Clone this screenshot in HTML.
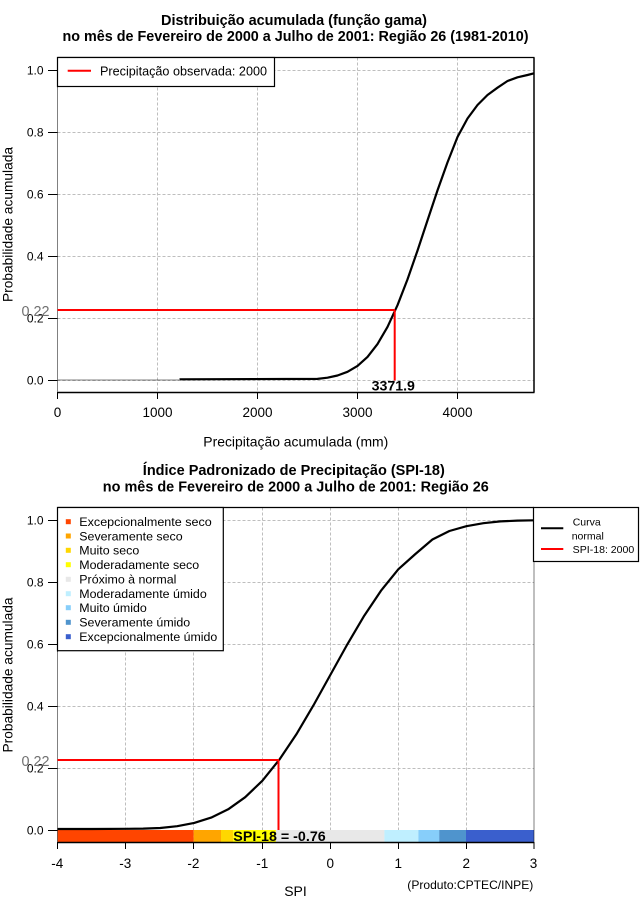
<!DOCTYPE html>
<html><head><meta charset="utf-8"><style>
html,body{margin:0;padding:0;background:#fff;}
svg{display:block;}
text{font-family:"Liberation Sans",Arial,sans-serif;}
</style></head><body>
<svg width="640" height="900" viewBox="0 0 640 900" xmlns="http://www.w3.org/2000/svg">
<rect width="640" height="900" fill="#fff"/>

<!-- ===== TOP PLOT ===== -->
<text x="294" y="25" font-size="15" font-weight="bold" text-anchor="middle" textLength="266" lengthAdjust="spacingAndGlyphs">Distribuição acumulada (função gama)</text>
<text x="295.5" y="41" font-size="15" font-weight="bold" text-anchor="middle" textLength="466" lengthAdjust="spacingAndGlyphs">no mês de Fevereiro de 2000 a Julho de 2001: Região 26 (1981-2010)</text>

<g stroke="#bebebe" stroke-width="1" stroke-dasharray="3,2" fill="none">
  <line x1="57.5" y1="70.5" x2="534" y2="70.5"/>
  <line x1="57.5" y1="132.5" x2="534" y2="132.5"/>
  <line x1="57.5" y1="194.5" x2="534" y2="194.5"/>
  <line x1="57.5" y1="256.5" x2="534" y2="256.5"/>
  <line x1="57.5" y1="318.5" x2="534" y2="318.5"/>
  <line x1="57.5" y1="380.5" x2="534" y2="380.5"/>
  <line x1="157.5" y1="57.5" x2="157.5" y2="392.5"/>
  <line x1="257.5" y1="57.5" x2="257.5" y2="392.5"/>
  <line x1="357.5" y1="57.5" x2="357.5" y2="392.5"/>
  <line x1="457.5" y1="57.5" x2="457.5" y2="392.5"/>
</g>

<!-- box -->
<line x1="57.5" y1="57.5" x2="534.5" y2="57.5" stroke="#000" stroke-width="1.2"/>
<line x1="534" y1="57.5" x2="534" y2="392.5" stroke="#000" stroke-width="1.5"/>
<line x1="57.5" y1="392.5" x2="534.5" y2="392.5" stroke="#000" stroke-width="1.5"/>
<line x1="57.5" y1="57.5" x2="57.5" y2="392.5" stroke="#000" stroke-width="1" stroke-dasharray="1,1"/>

<!-- curve -->
<line x1="57.5" y1="380" x2="179.5" y2="380" stroke="#000" stroke-width="1" stroke-dasharray="1,1"/>
<polyline fill="none" stroke="#000" stroke-width="2.2" stroke-linejoin="round" points="179.5,379.3 317.5,378.9 327.5,377.7 337.5,375.5 347.5,371.8 357.5,365.9 367.5,356.9 377.5,344.1 387.5,326.9 397.5,305.2 407.5,279.4 417.5,250.6 427.5,220.4 437.5,190.4 447.5,162.4 457.5,137 467.5,118.5 477.5,105 487.5,95 497.5,87.7 507.5,81 517.5,77.3 527.5,75 534,73.3"/>

<!-- red lines -->
<line x1="57.5" y1="310" x2="395" y2="310" stroke="#ff0000" stroke-width="2"/>
<line x1="394.7" y1="310" x2="394.7" y2="380.5" stroke="#ff0000" stroke-width="2"/>

<!-- legend -->
<rect x="57.5" y="57.5" width="217" height="29" fill="#fff" stroke="#000" stroke-width="1.2"/>
<line x1="67.7" y1="70.7" x2="91" y2="70.7" stroke="#ff0000" stroke-width="2"/>
<text x="100" y="75.5" font-size="12.5" textLength="167" lengthAdjust="spacingAndGlyphs">Precipitação observada: 2000</text>

<!-- y ticks -->
<g stroke="#000" stroke-width="1">
  <line x1="48" y1="70.5" x2="57.5" y2="70.5"/>
  <line x1="48" y1="132.5" x2="57.5" y2="132.5"/>
  <line x1="48" y1="194.5" x2="57.5" y2="194.5"/>
  <line x1="48" y1="256.5" x2="57.5" y2="256.5"/>
  <line x1="48" y1="318.5" x2="57.5" y2="318.5"/>
  <line x1="48" y1="380.5" x2="57.5" y2="380.5"/>
</g>
<g font-size="12" text-anchor="end">
  <text x="43.5" y="74.7">1.0</text>
  <text x="43.5" y="136.7">0.8</text>
  <text x="43.5" y="198.5">0.6</text>
  <text x="43.5" y="260.5">0.4</text>
  <text x="43.5" y="322.5">0.2</text>
  <text x="43.5" y="384.5">0.0</text>
</g>
<text x="49.5" y="316" font-size="14.5" fill="#707070" text-anchor="end" textLength="28" lengthAdjust="spacingAndGlyphs">0.22</text>

<!-- x ticks -->
<g stroke="#000" stroke-width="1">
  <line x1="57.5" y1="392.5" x2="57.5" y2="399"/>
  <line x1="157.5" y1="392.5" x2="157.5" y2="399"/>
  <line x1="257.5" y1="392.5" x2="257.5" y2="399"/>
  <line x1="357.5" y1="392.5" x2="357.5" y2="399"/>
  <line x1="457.5" y1="392.5" x2="457.5" y2="399"/>
</g>
<g font-size="13.5" text-anchor="middle">
  <text x="57.5" y="417">0</text>
  <text x="157.5" y="417">1000</text>
  <text x="257.5" y="417">2000</text>
  <text x="357.5" y="417">3000</text>
  <text x="457.5" y="417">4000</text>
</g>
<text x="393.3" y="390.7" font-size="14.2" font-weight="bold" text-anchor="middle" textLength="43.3" lengthAdjust="spacingAndGlyphs">3371.9</text>

<text x="295.8" y="446.5" font-size="14" text-anchor="middle" textLength="185" lengthAdjust="spacingAndGlyphs">Precipitação acumulada (mm)</text>
<text transform="translate(12.5,224.5) rotate(-90)" font-size="14" text-anchor="middle" textLength="155" lengthAdjust="spacingAndGlyphs">Probabilidade acumulada</text>

<!-- ===== BOTTOM PLOT ===== -->
<text x="293.8" y="475" font-size="15" font-weight="bold" text-anchor="middle" textLength="302" lengthAdjust="spacingAndGlyphs">Índice Padronizado de Precipitação (SPI-18)</text>
<text x="295.8" y="491.5" font-size="15" font-weight="bold" text-anchor="middle" textLength="386" lengthAdjust="spacingAndGlyphs">no mês de Fevereiro de 2000 a Julho de 2001: Região 26</text>

<g stroke="#bebebe" stroke-width="1" stroke-dasharray="3,2" fill="none">
  <line x1="57.5" y1="520.5" x2="534" y2="520.5"/>
  <line x1="57.5" y1="582.5" x2="534" y2="582.5"/>
  <line x1="57.5" y1="644.5" x2="534" y2="644.5"/>
  <line x1="57.5" y1="706.5" x2="534" y2="706.5"/>
  <line x1="57.5" y1="768.5" x2="534" y2="768.5"/>
  <line x1="125.5" y1="507.5" x2="125.5" y2="842"/>
  <line x1="193.5" y1="507.5" x2="193.5" y2="842"/>
  <line x1="262.5" y1="507.5" x2="262.5" y2="842"/>
  <line x1="330.5" y1="507.5" x2="330.5" y2="842"/>
  <line x1="398.5" y1="507.5" x2="398.5" y2="842"/>
  <line x1="466.5" y1="507.5" x2="466.5" y2="842"/>
</g>

<!-- color bar -->
<rect x="57.5" y="830" width="136.2" height="12" fill="#ff4500"/>
<rect x="193.7" y="830" width="27.3" height="12" fill="#ffa500"/>
<rect x="221" y="830" width="12.3" height="12" fill="#ffd700"/>
<rect x="233.3" y="830" width="42.6" height="12" fill="#ffff00"/>
<rect x="275.9" y="830" width="108.5" height="12" fill="#e8e8e8"/>
<rect x="384.4" y="830" width="34" height="12" fill="#bfefff"/>
<rect x="418.4" y="830" width="20.8" height="12" fill="#87cefa"/>
<rect x="439.2" y="830" width="26.8" height="12" fill="#4f94cd"/>
<rect x="466" y="830" width="68" height="12" fill="#3a5fcd"/>

<!-- box -->
<line x1="57.5" y1="507.5" x2="534" y2="507.5" stroke="#000" stroke-width="1.2"/>
<line x1="534" y1="507.5" x2="534" y2="842" stroke="#000" stroke-width="1" stroke-dasharray="1,1"/>
<line x1="57.5" y1="842.5" x2="534.5" y2="842.5" stroke="#000" stroke-width="1.5"/>
<line x1="57.5" y1="507.5" x2="57.5" y2="842" stroke="#000" stroke-width="1" stroke-dasharray="1,1"/>

<!-- curve -->
<polyline fill="none" stroke="#000" stroke-width="2.2" stroke-linejoin="round" points="57.5,829 92.1,829 126.2,828.8 143.2,828.6 160.2,828 177.2,826.2 194.2,822.9 211.2,817.6 228.2,809.3 245.2,797.2 262.3,780.8 279.3,759.7 296.3,734.4 313.3,705.6 330.3,675 347.3,644.4 364.3,615.6 381.3,590.3 398.4,569.2 415.4,554 432.4,539.5 449.4,531 466.4,526.2 483.4,523.2 500.4,521.4 517.4,520.6 534,520.3"/>

<!-- red lines -->
<line x1="57.5" y1="760" x2="279" y2="760" stroke="#ff0000" stroke-width="2"/>
<line x1="278.5" y1="760" x2="278.5" y2="830" stroke="#ff0000" stroke-width="2"/>

<text x="279.5" y="841" font-size="14" font-weight="bold" text-anchor="middle" textLength="92.4" lengthAdjust="spacingAndGlyphs">SPI-18 = -0.76</text>

<!-- left legend -->
<rect x="57.5" y="507.5" width="165.8" height="143.2" fill="#fff" stroke="#000" stroke-width="1.2"/>
<g>
  <rect x="65.8" y="519.2" width="5" height="5" fill="#ff4500"/>
  <rect x="65.8" y="533.5" width="5" height="5" fill="#ffa500"/>
  <rect x="65.8" y="547.8" width="5" height="5" fill="#ffd700"/>
  <rect x="65.8" y="562.2" width="5" height="5" fill="#ffff00"/>
  <rect x="65.8" y="576.8" width="5" height="5" fill="#e8e8e8"/>
  <rect x="65.8" y="591.2" width="5" height="5" fill="#bfefff"/>
  <rect x="65.8" y="605.2" width="5" height="5" fill="#87cefa"/>
  <rect x="65.8" y="619.8" width="5" height="5" fill="#4f94cd"/>
  <rect x="65.8" y="634.2" width="5" height="5" fill="#3a5fcd"/>
</g>
<g font-size="12.4">
  <text x="79.3" y="526" textLength="132.4" lengthAdjust="spacingAndGlyphs">Excepcionalmente seco</text>
  <text x="79.3" y="540.3">Severamente seco</text>
  <text x="79.3" y="554.6">Muito seco</text>
  <text x="79.3" y="569">Moderadamente seco</text>
  <text x="79.3" y="583.6">Próximo à normal</text>
  <text x="79.3" y="598">Moderadamente úmido</text>
  <text x="79.3" y="612">Muito úmido</text>
  <text x="79.3" y="626.6">Severamente úmido</text>
  <text x="79.3" y="641" textLength="138" lengthAdjust="spacingAndGlyphs">Excepcionalmente úmido</text>
</g>

<!-- right legend -->
<rect x="533.5" y="507.5" width="105" height="54" fill="#fff" stroke="#000" stroke-width="1.2"/>
<line x1="541" y1="528.3" x2="563.3" y2="528.3" stroke="#000" stroke-width="2"/>
<line x1="541" y1="549" x2="563.3" y2="549" stroke="#ff0000" stroke-width="2"/>
<g font-size="10.5">
  <text x="572.7" y="525.5">Curva</text>
  <text x="571.7" y="539.5">normal</text>
  <text x="572.7" y="553.2" textLength="61.6" lengthAdjust="spacingAndGlyphs">SPI-18: 2000</text>
</g>

<!-- y ticks -->
<g stroke="#000" stroke-width="1">
  <line x1="48" y1="520.5" x2="57.5" y2="520.5"/>
  <line x1="48" y1="582.5" x2="57.5" y2="582.5"/>
  <line x1="48" y1="644.5" x2="57.5" y2="644.5"/>
  <line x1="48" y1="706.5" x2="57.5" y2="706.5"/>
  <line x1="48" y1="768.5" x2="57.5" y2="768.5"/>
  <line x1="48" y1="830.5" x2="57.5" y2="830.5"/>
</g>
<g font-size="12" text-anchor="end">
  <text x="43.5" y="524.5">1.0</text>
  <text x="43.5" y="586.5">0.8</text>
  <text x="43.5" y="648.5">0.6</text>
  <text x="43.5" y="710.5">0.4</text>
  <text x="43.5" y="772.5">0.2</text>
  <text x="43.5" y="834.5">0.0</text>
</g>
<text x="49.5" y="766" font-size="14.5" fill="#707070" text-anchor="end" textLength="28" lengthAdjust="spacingAndGlyphs">0.22</text>

<!-- x ticks -->
<g stroke="#000" stroke-width="1">
  <line x1="57.5" y1="842" x2="57.5" y2="849"/>
  <line x1="125.5" y1="842" x2="125.5" y2="849"/>
  <line x1="193.5" y1="842" x2="193.5" y2="849"/>
  <line x1="262.5" y1="842" x2="262.5" y2="849"/>
  <line x1="330.5" y1="842" x2="330.5" y2="849"/>
  <line x1="398.5" y1="842" x2="398.5" y2="849"/>
  <line x1="466.5" y1="842" x2="466.5" y2="849"/>
  <line x1="534" y1="842" x2="534" y2="849"/>
</g>
<g font-size="13.5" text-anchor="middle">
  <text x="57.3" y="868">-4</text>
  <text x="125.3" y="868">-3</text>
  <text x="193.4" y="868">-2</text>
  <text x="262.3" y="868">-1</text>
  <text x="330.3" y="868">0</text>
  <text x="398.3" y="868">1</text>
  <text x="466.2" y="868">2</text>
  <text x="533.5" y="868">3</text>
</g>

<text x="295.5" y="896" font-size="14" text-anchor="middle">SPI</text>
<text x="533.3" y="889" font-size="12" text-anchor="end" textLength="126" lengthAdjust="spacingAndGlyphs">(Produto:CPTEC/INPE)</text>
<text transform="translate(12.5,675) rotate(-90)" font-size="14" text-anchor="middle" textLength="155" lengthAdjust="spacingAndGlyphs">Probabilidade acumulada</text>
</svg>
</body></html>
